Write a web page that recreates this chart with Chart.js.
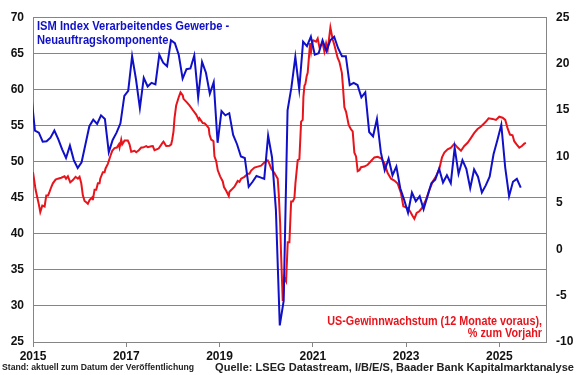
<!DOCTYPE html>
<html>
<head>
<meta charset="utf-8">
<script src="https://cdn.jsdelivr.net/npm/chart.js@4.4.1/dist/chart.umd.min.js"></script>
<style>
  html, body { margin: 0; padding: 0; background: #fff; }
</style>
</head>
<body>
<canvas id="chart" width="580" height="375"></canvas>
<script>
// ISM Neuauftragskomponente, monatlich, erster Wert = Dez 2014
const ismStart = 2014 + 11 / 12;
const ismValues = [59.5,
  54.3, 54.0, 52.75, 52.8, 53.3, 54.3, 53.1, 51.7, 50.5, 52.2, 50.2, 49.1,
  49.9, 52.4, 54.9, 55.8, 55.2, 56.4, 55.9, 51.3, 53.0, 54.0, 55.3, 59.1,
  59.8, 64.6, 61.4, 57.4, 61.6, 60.4, 60.9, 60.7, 64.8, 63.7, 63.2, 66.8,
  66.4, 64.8, 61.5, 62.8, 62.9, 64.7, 58.9, 63.8, 62.3, 59.4, 61.0, 52.6,
  57.0, 56.4, 56.7, 53.7, 52.4, 50.7, 50.5, 46.5, 47.2, 48.0, 47.8, 47.6,
  53.6, 50.6, 43.3, 27.3, 30.7, 57.1, 60.3, 64.5, 60.0, 66.6, 66.0, 67.3,
  64.8, 65.0, 66.8, 65.3, 66.8, 67.3, 65.7, 64.6, 64.6, 60.6, 60.9, 60.6,
  58.9, 59.6, 54.1, 53.5, 55.9, 51.3, 48.8, 50.4, 48.1, 49.3, 46.3, 44.7,
  42.9, 45.7, 44.5, 45.2, 43.4, 45.2, 47.0, 47.5, 49.0, 47.1, 48.1, 47.0,
  51.9, 48.3, 50.2, 49.0, 46.3, 48.9, 47.9, 45.7, 46.7, 47.9, 51.0, 53.0,
  55.1, 49.2, 45.2, 47.2, 47.6, 46.4];

// US-Gewinnwachstum 12M voraus (% ggü. Vorjahr), Zeitpunkte in Jahren
const earningsYears = [
  2015.000, 2015.056, 2015.126, 2015.156, 2015.199, 2015.249, 2015.285, 2015.324, 2015.356, 2015.392,
  2015.426, 2015.484, 2015.534, 2015.606, 2015.677, 2015.709, 2015.748, 2015.799, 2015.855, 2015.913,
  2015.962, 2015.998, 2016.035, 2016.069, 2016.106, 2016.155, 2016.176, 2016.213, 2016.271, 2016.283,
  2016.320, 2016.356, 2016.391, 2016.427, 2016.442, 2016.498, 2016.534, 2016.556, 2016.605, 2016.663,
  2016.699, 2016.748, 2016.798, 2016.841, 2016.856, 2016.892, 2016.913, 2016.963, 2017.033, 2017.070,
  2017.106, 2017.177, 2017.213, 2017.269, 2017.321, 2017.355, 2017.428, 2017.462, 2017.535, 2017.569,
  2017.606, 2017.676, 2017.698, 2017.783, 2017.798, 2017.856, 2017.927, 2017.963, 2017.985, 2018.013,
  2018.034, 2018.070, 2018.126, 2018.163, 2018.212, 2018.227, 2018.285, 2018.355, 2018.426, 2018.499,
  2018.555, 2018.570, 2018.640, 2018.677, 2018.713, 2018.769, 2018.784, 2018.820, 2018.855, 2018.870,
  2018.891, 2018.928, 2018.962, 2019.013, 2019.069, 2019.095, 2019.142, 2019.198, 2019.213, 2019.249,
  2019.320, 2019.390, 2019.427, 2019.463, 2019.534, 2019.605, 2019.641, 2019.678, 2019.748, 2019.819,
  2019.892, 2019.963, 2020.033, 2020.070, 2020.106, 2020.177, 2020.226, 2020.247, 2020.269, 2020.299,
  2020.320, 2020.355, 2020.391, 2020.427, 2020.462, 2020.498, 2020.535, 2020.569, 2020.605, 2020.627,
  2020.676, 2020.712, 2020.749, 2020.783, 2020.798, 2020.820, 2020.841, 2020.869, 2020.890, 2020.912,
  2020.942, 2020.963, 2020.998, 2021.012, 2021.070, 2021.105, 2021.141, 2021.212, 2021.248, 2021.285,
  2021.319, 2021.377, 2021.426, 2021.462, 2021.533, 2021.570, 2021.623, 2021.645, 2021.677, 2021.713,
  2021.769, 2021.820, 2021.855, 2021.891, 2021.927, 2021.962, 2021.998, 2022.034, 2022.105, 2022.176,
  2022.249, 2022.320, 2022.390, 2022.463, 2022.534, 2022.605, 2022.677, 2022.748, 2022.819, 2022.892,
  2022.941, 2023.033, 2023.084, 2023.140, 2023.177, 2023.226, 2023.284, 2023.342, 2023.391, 2023.427,
  2023.498, 2023.569, 2023.642, 2023.712, 2023.770, 2023.820, 2023.890, 2023.963, 2024.034, 2024.105,
  2024.177, 2024.248, 2024.319, 2024.392, 2024.462, 2024.533, 2024.606, 2024.677, 2024.713, 2024.769,
  2024.854, 2024.927, 2024.998, 2025.069, 2025.126, 2025.176, 2025.227, 2025.283, 2025.319, 2025.369,
  2025.427, 2025.484, 2025.534, 2025.570];
const earningsValues = [
  8.3, 6.4, 4.8, 4.0, 4.7, 4.6, 5.8, 5.8, 6.2, 6.7,
  7.1, 7.5, 7.6, 7.7, 7.85, 7.6, 7.85, 7.2, 7.45, 7.8,
  7.6, 7.8, 7.1, 5.8, 5.2, 5.0, 4.9, 5.3, 5.6, 5.3,
  6.4, 6.4, 7.1, 7.1, 7.6, 8.3, 8.3, 8.7, 9.2, 10.1,
  10.6, 10.9, 10.95, 11.3, 10.95, 11.8, 11.3, 11.7, 11.7, 11.3,
  10.5, 10.6, 10.45, 10.66, 10.95, 10.95, 11.1, 11.0, 11.1, 11.12,
  10.66, 10.8, 10.87, 11.5, 11.58, 11.12, 11.15, 11.3, 11.8, 12.7,
  14.1, 15.5, 16.4, 16.9, 16.57, 16.2, 15.9, 15.5, 15.0, 14.5,
  13.93, 14.1, 13.6, 13.58, 13.4, 13.05, 12.35, 11.82, 11.7, 11.64,
  10.0, 9.5, 8.5, 7.85, 7.3, 6.7, 6.3, 5.74, 6.2, 6.37,
  6.73, 7.36, 7.26, 7.6, 7.8, 8.13, 8.13, 8.48, 8.8, 8.9,
  9.0, 9.37, 9.57, 9.2, 8.7, 8.2, 7.78, 7.6, 6.0, 2.86,
  -0.65, -5.57, -3.1, -3.46, 0.75, 0.75, 5.15, 5.15, 5.5, 7.1,
  9.6, 9.71, 13.75, 13.93, 16.39, 17.6, 17.8, 18.67, 19.0, 20.4,
  22.2, 21.3, 22.47, 22.5, 22.36, 22.7, 21.8, 22.2, 21.3, 22.2,
  21.5, 23.9, 22.6, 22.0, 20.6, 20.2, 19.0, 17.6, 15.3, 14.8,
  13.4, 12.9, 12.7, 10.4, 10.0, 8.4, 8.5, 8.84, 8.9, 9.1,
  9.5, 9.89, 9.95, 9.8, 9.3, 8.2, 7.6, 7.4, 7.08, 6.0,
  4.62, 4.44, 4.09, 3.57, 3.28, 3.9, 4.09, 4.44, 4.97, 5.32,
  6.37, 7.26, 7.85, 8.66, 9.89, 10.42, 10.77, 10.95, 11.37, 10.95,
  10.6, 11.12, 11.47, 12.0, 12.53, 12.95, 13.22, 13.58, 13.75, 14.1,
  14.04, 13.93, 14.28, 14.17, 13.93, 13.05, 12.35, 12.28, 11.64, 11.3,
  10.95, 11.12, 11.37, 11.45];

const yearTicks = [2015, 2017, 2019, 2021, 2023, 2025];

const BLUE = "#1010c8";
const RED = "#e8141c";
const GRID = "#858585";
const FONT = '"Liberation Sans", Arial, sans-serif';

const ismPoints = ismValues.map((v, i) => ({ x: ismStart + (i + 0.5) / 12, y: v }));
const earningsPoints = earningsYears.map((t, i) => ({ x: t, y: earningsValues[i] }));

// Text leicht schmaler laufen lassen, wie im Original
function schmal(ctx, text, x, y, align, sx) {
  ctx.save();
  ctx.translate(x, y);
  ctx.scale(sx, 1);
  ctx.textAlign = align;
  ctx.fillText(text, 0, 0);
  ctx.restore();
}

// Beschriftungen im Diagramm und Fußzeile
const textPlugin = {
  id: "texte",
  afterDraw(chart) {
    const { ctx, chartArea: a } = chart;
    ctx.save();
    ctx.textBaseline = "middle";
    ctx.font = "bold 12px " + FONT;
    ctx.fillStyle = BLUE;
    schmal(ctx, "ISM Index Verarbeitendes Gewerbe -", a.left + 4, a.top + 9, "left", 0.93);
    schmal(ctx, "Neuauftragskomponente", a.left + 4, a.top + 23, "left", 0.93);

    ctx.fillStyle = RED;
    schmal(ctx, "US-Gewinnwachstum (12 Monate voraus),", a.right - 4, a.bottom - 20, "right", 0.9);
    schmal(ctx, "% zum Vorjahr", a.right - 4, a.bottom - 8, "right", 0.9);

    ctx.fillStyle = "#222";
    ctx.font = "bold 9px " + FONT;
    schmal(ctx, "Stand: aktuell zum Datum der Veröffentlichung", 2, 368, "left", 0.96);
    ctx.font = "bold 11.5px " + FONT;
    schmal(ctx, "Quelle: LSEG Datastream, I/B/E/S, Baader Bank Kapitalmarktanalyse", 574, 368, "right", 0.96);
    ctx.restore();
  }
};

const tickFont = { family: FONT, size: 12, weight: "bold" };

new Chart(document.getElementById("chart"), {
  type: "line",
  data: {
    datasets: [
      {
        label: "ISM Neuaufträge",
        data: ismPoints,
        yAxisID: "y",
        borderColor: BLUE,
        borderWidth: 2,
        pointRadius: 0,
        tension: 0
      },
      {
        label: "US-Gewinnwachstum",
        data: earningsPoints,
        yAxisID: "y1",
        borderColor: RED,
        borderWidth: 2,
        pointRadius: 0,
        tension: 0
      }
    ]
  },
  options: {
    responsive: false,
    animation: false,
    devicePixelRatio: 1,
    layout: { padding: { top: 10, right: 0, bottom: 0, left: 0 } },
    plugins: {
      legend: { display: false },
      tooltip: { enabled: false }
    },
    scales: {
      x: {
        type: "linear",
        min: 2015,
        max: 2026,
        afterBuildTicks: s => { s.ticks = yearTicks.map(v => ({ value: v })); },
        afterFit: s => { s.height = 33; },
        grid: { drawOnChartArea: false, drawTicks: true, tickLength: 5, color: GRID },
        border: { color: GRID, width: 1 },
        ticks: {
          font: tickFont,
          color: "#111",
          padding: 2,
          maxRotation: 0,
          autoSkip: false,
          callback: v => String(v)
        }
      },
      y: {
        position: "left",
        min: 25,
        max: 70,
        afterFit: s => { s.width = 33; },
        grid: { color: GRID, lineWidth: 1, drawTicks: false },
        border: { color: GRID, width: 1 },
        ticks: { stepSize: 5, font: tickFont, color: "#111", padding: 9 }
      },
      y1: {
        position: "right",
        min: -10,
        max: 25,
        afterFit: s => { s.width = 34; },
        grid: { drawOnChartArea: false, drawTicks: false },
        border: { color: GRID, width: 1 },
        ticks: { stepSize: 5, font: tickFont, color: "#111", padding: 10 }
      }
    }
  },
  plugins: [textPlugin]
});
</script>
</body>
</html>
